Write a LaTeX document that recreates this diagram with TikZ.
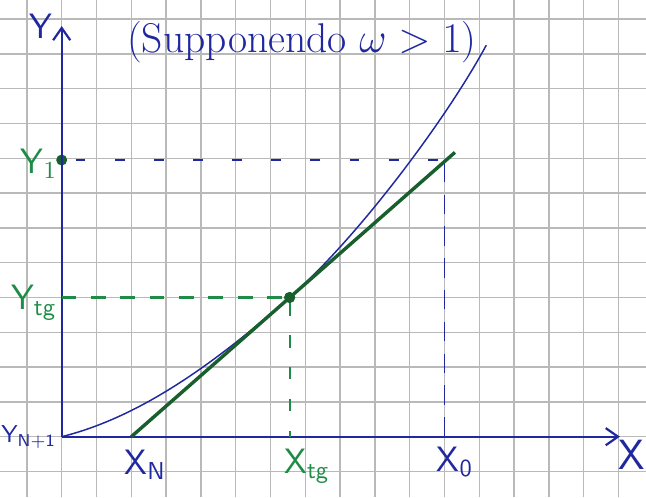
\documentclass[tikz,border=0pt]{standalone}
\usepackage{amsmath}
\usepackage{tikz}
\usetikzlibrary{arrows.meta,positioning}
\usepackage{xcolor}

\definecolor{inkblue}{RGB}{32,40,160}
\definecolor{inkgreen}{RGB}{30,140,70}
\definecolor{darkgreen}{RGB}{25,95,45}
\definecolor{gridgray}{RGB}{185,185,185}

\begin{document}
\begin{tikzpicture}[
    x=0.5cm, y=0.5cm,
    >={Straight Barb[length=5pt,width=7pt]},
    bluelabel/.style={font=\Large\sffamily, text=inkblue},
    greenlabel/.style={font=\Large\sffamily, text=inkgreen},
    blueguide/.style={inkblue, line width=0.9pt, dash pattern=on 4pt off 12pt},
    greenguide/.style={inkgreen, line width=0.9pt, dash pattern=on 6pt off 6pt},
    dot/.style={circle, fill=darkgreen, inner sep=0pt, minimum size=4.5pt},
  ]
  \def\xtg{6.55}
  \def\ytg{4}
  \def\yone{7.95}

  % paper
  \useasboundingbox (-1.773,-1.733) rectangle (16.79,12.549);
  \fill[white] (-1.773,-1.733) rectangle (16.79,12.549);
  \draw[gridgray, line width=0.55pt, step=1] (-1.773,-1.733) grid (16.79,12.549);

  % points
  \coordinate (O) at (0,0);
  \coordinate (ytop) at (0,11.8);
  \coordinate (xend) at (16.04,0);
  \coordinate (xn) at (2,0);
  \coordinate (xo) at (11,0);
  \coordinate (tgend) at (11.3,8.17);
  \coordinate (ctop) at (12.2,11.25);
  \node[dot] (tg) at (\xtg,\ytg) {};
  \node[dot] (y1) at (0,\yone) {};

  % axes
  \draw[->, inkblue, line width=0.9pt] (O) -- (ytop);
  \draw[->, inkblue, line width=0.9pt] (O) -- (xend);

  % guide lines
  \draw[blueguide] (0.4,\yone) -- (xo |- y1);
  \draw[blueguide, line width=0.6pt, dash pattern=on 8pt off 5pt] (xo) -- (xo |- y1);
  \draw[greenguide] (y1 |- tg) -- (tg);
  \draw[greenguide, dash pattern=on 5pt off 8pt] (tg) -- (tg |- O);

  % curve and tangent
  \draw[inkblue, line width=0.6pt] (O) .. controls (2.2,0.55) and (4.3,2.02) .. (tg.center)
    .. controls (8.55,5.76) and (11.1,9.2) .. (ctop);
  \draw[darkgreen, line width=1.4pt] (xn) -- (tgend);
  \node[dot] at (tg) {};

  % labels
  \node[font=\fontsize{17}{20}\selectfont, text=inkblue] (title) at (6.9,11.34) {(Supponendo $\omega>1$)};
  \node[bluelabel] (ylab) at (-0.6,11.8) {Y};
  \node[bluelabel, font=\LARGE\sffamily] (xlab) at (16.39,-0.53) {X};
  \node[greenlabel] (y1lab) at (-0.65,7.85) {Y$_1$};
  \node[greenlabel] (ytglab) at (-0.8,3.85) {Y$_{\mathsf{tg}}$};
  \node[bluelabel, font=\normalsize\sffamily] (yn1lab) at (-0.95,0) {Y$_{\mathsf{N+1}}$};
  \node[bluelabel] (xnlab) at (2.4,-0.8) {X$_{\mathsf{N}}$};
  \node[greenlabel] (xtglab) at (7.05,-0.85) {X$_{\mathsf{tg}}$};
  \node[bluelabel] (xolab) at (11.3,-0.73) {X$_{\mathsf{0}}$};
\end{tikzpicture}
\end{document}
